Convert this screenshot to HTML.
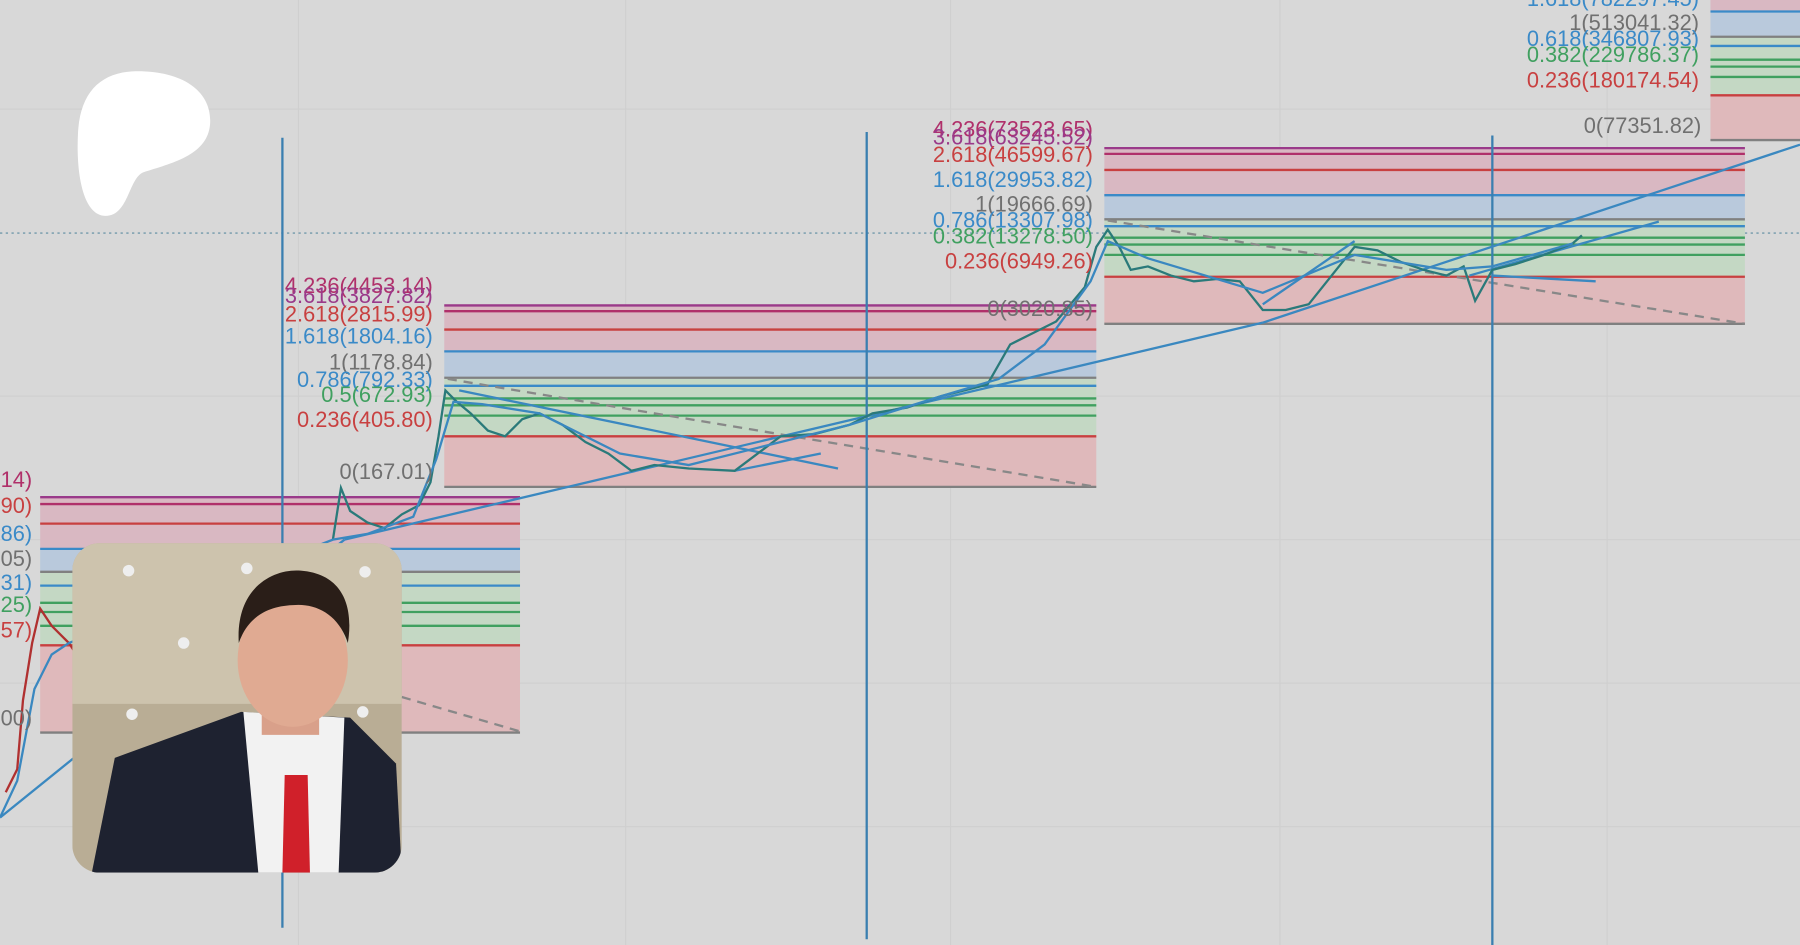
<!DOCTYPE html>
<html><head><meta charset="utf-8"><style>
html,body{margin:0;padding:0;background:#d8d8d8;overflow:hidden}
svg{display:block}
text{font-family:"Liberation Sans",sans-serif;font-size:19px;text-anchor:end}
</style></head><body>
<svg width="1800" height="945" viewBox="0 0 1568 823" preserveAspectRatio="none" xmlns="http://www.w3.org/2000/svg">
<rect width="1568" height="823" fill="#d8d8d8"/>
<g stroke="#cfcfcf" stroke-width="1">
<line x1="260" y1="0" x2="260" y2="823"/><line x1="545" y1="0" x2="545" y2="823"/><line x1="828" y1="0" x2="828" y2="823"/><line x1="1115" y1="0" x2="1115" y2="823"/><line x1="1400" y1="0" x2="1400" y2="823"/>
<line x1="0" y1="95" x2="1568" y2="95"/><line x1="0" y1="345" x2="1568" y2="345"/><line x1="0" y1="470" x2="1568" y2="470"/><line x1="0" y1="595" x2="1568" y2="595"/><line x1="0" y1="720" x2="1568" y2="720"/>
</g>
<line x1="0" y1="203" x2="1568" y2="203" stroke="#5a8aa0" stroke-width="1" stroke-dasharray="2,3"/>

<!-- Box 1 -->
<g>
<rect x="35" y="432" width="418" height="46" fill="#d9b8c2"/>
<rect x="35" y="478" width="418" height="20" fill="#b9c9dc"/>
<rect x="35" y="498" width="418" height="64" fill="#c4d8c4"/>
<rect x="35" y="562" width="418" height="76" fill="#dfb9bb"/>
<g stroke-width="2">
<line x1="35" y1="433" x2="453" y2="433" stroke="#9a3a8a"/><line x1="35" y1="439" x2="453" y2="439" stroke="#b0306a"/><line x1="35" y1="456" x2="453" y2="456" stroke="#c84040"/>
<line x1="35" y1="478" x2="453" y2="478" stroke="#3a8ac8"/><line x1="35" y1="498" x2="453" y2="498" stroke="#808080"/><line x1="35" y1="510" x2="453" y2="510" stroke="#3a8ac8"/>
<line x1="35" y1="525" x2="453" y2="525" stroke="#40a060"/><line x1="35" y1="533" x2="453" y2="533" stroke="#40a060"/><line x1="35" y1="545" x2="453" y2="545" stroke="#40a060"/>
<line x1="35" y1="562" x2="453" y2="562" stroke="#c84040"/><line x1="35" y1="638" x2="453" y2="638" stroke="#808080"/>
</g>
<line x1="350" y1="607" x2="453" y2="637" stroke="#888" stroke-width="2" stroke-dasharray="8,6"/>
</g>
<!-- Box 2 -->
<g>
<rect x="387" y="265" width="568" height="41" fill="#d9b8c2"/>
<rect x="387" y="306" width="568" height="24" fill="#b9c9dc"/>
<rect x="387" y="330" width="568" height="50" fill="#c4d8c4"/>
<rect x="387" y="380" width="568" height="44" fill="#dfb9bb"/>
<g stroke-width="2">
<line x1="387" y1="266" x2="955" y2="266" stroke="#9a3a8a"/><line x1="387" y1="271" x2="955" y2="271" stroke="#b0306a"/><line x1="387" y1="287" x2="955" y2="287" stroke="#c84040"/>
<line x1="387" y1="306" x2="955" y2="306" stroke="#3a8ac8"/><line x1="387" y1="329" x2="955" y2="329" stroke="#808080"/><line x1="387" y1="336" x2="955" y2="336" stroke="#3a8ac8"/>
<line x1="387" y1="347" x2="955" y2="347" stroke="#40a060"/><line x1="387" y1="353" x2="955" y2="353" stroke="#40a060"/><line x1="387" y1="362" x2="955" y2="362" stroke="#40a060"/>
<line x1="387" y1="380" x2="955" y2="380" stroke="#c84040"/><line x1="387" y1="424" x2="955" y2="424" stroke="#808080"/>
</g>
<line x1="390" y1="330" x2="955" y2="424" stroke="#888" stroke-width="2" stroke-dasharray="8,6"/>
</g>
<!-- Box 3 -->
<g>
<rect x="962" y="128" width="558" height="42" fill="#d9b8c2"/>
<rect x="962" y="170" width="558" height="21" fill="#b9c9dc"/>
<rect x="962" y="191" width="558" height="50" fill="#c4d8c4"/>
<rect x="962" y="241" width="558" height="41" fill="#dfb9bb"/>
<g stroke-width="2">
<line x1="962" y1="129" x2="1520" y2="129" stroke="#9a3a8a"/><line x1="962" y1="134" x2="1520" y2="134" stroke="#b0306a"/><line x1="962" y1="148" x2="1520" y2="148" stroke="#c84040"/>
<line x1="962" y1="170" x2="1520" y2="170" stroke="#3a8ac8"/><line x1="962" y1="191" x2="1520" y2="191" stroke="#808080"/><line x1="962" y1="197" x2="1520" y2="197" stroke="#3a8ac8"/>
<line x1="962" y1="207" x2="1520" y2="207" stroke="#40a060"/><line x1="962" y1="213" x2="1520" y2="213" stroke="#40a060"/><line x1="962" y1="222" x2="1520" y2="222" stroke="#40a060"/>
<line x1="962" y1="241" x2="1520" y2="241" stroke="#c84040"/><line x1="962" y1="282" x2="1520" y2="282" stroke="#808080"/>
</g>
<line x1="965" y1="192" x2="1520" y2="282" stroke="#888" stroke-width="2" stroke-dasharray="8,6"/>
</g>
<!-- Box 4 -->
<g>
<rect x="1490" y="0" width="78" height="10" fill="#d9b8c2"/>
<rect x="1490" y="10" width="78" height="22" fill="#b9c9dc"/>
<rect x="1490" y="32" width="78" height="51" fill="#c4d8c4"/>
<rect x="1490" y="83" width="78" height="39" fill="#dfb9bb"/>
<g stroke-width="2">
<line x1="1490" y1="10" x2="1568" y2="10" stroke="#3a8ac8"/><line x1="1490" y1="32" x2="1568" y2="32" stroke="#808080"/><line x1="1490" y1="40" x2="1568" y2="40" stroke="#3a8ac8"/>
<line x1="1490" y1="52" x2="1568" y2="52" stroke="#40a060"/><line x1="1490" y1="58" x2="1568" y2="58" stroke="#40a060"/><line x1="1490" y1="67" x2="1568" y2="67" stroke="#40a060"/>
<line x1="1490" y1="83" x2="1568" y2="83" stroke="#c84040"/><line x1="1490" y1="122" x2="1568" y2="122" stroke="#808080"/>
</g>
</g>

<!-- vertical lines -->
<g stroke="#3a7fb0" stroke-width="2">
<line x1="246" y1="120" x2="246" y2="808"/><line x1="755" y1="115" x2="755" y2="818"/><line x1="1300" y1="118" x2="1300" y2="823"/>
</g>

<!-- trend lines -->
<g stroke="#3a88c0" stroke-width="2" fill="none">
<line x1="0" y1="712" x2="300" y2="470"/>
<line x1="300" y1="470" x2="1100" y2="281"/>
<line x1="1100" y1="281" x2="1568" y2="126"/>
<line x1="1280" y1="240" x2="1445" y2="193"/>
<line x1="400" y1="340" x2="730" y2="408"/>
<line x1="640" y1="410" x2="715" y2="395"/>
<line x1="1100" y1="265" x2="1180" y2="210"/>
<line x1="1300" y1="240" x2="1390" y2="245"/>
</g>
<!-- price -->
<polyline fill="none" stroke="#b03030" stroke-width="2" points="5,690 15,670 20,610 28,560 35,530 45,545 60,560 70,575"/>
<polyline fill="none" stroke="#2a7a7a" stroke-width="2" points="290,470 297,425 305,445 320,455 335,460 350,448 365,440 375,420 382,380 388,340 398,350 410,360 425,375 440,380 455,365 470,360 490,370 510,385 530,395 550,410 570,405 600,408 640,410 660,395 680,380 710,378 740,370 760,360 790,355 820,345 860,335 880,300 900,290 920,280 945,250 955,215 965,200 975,215 985,235 1000,232 1020,240 1040,245 1060,243 1080,245 1100,270 1120,270 1140,265 1160,240 1180,215 1200,218 1220,228 1240,235 1260,240 1275,232 1285,262 1300,235 1320,230 1345,222 1370,212 1378,205"/>
<polyline fill="none" stroke="#3a88c0" stroke-width="2" points="0,712 15,680 30,600 45,570 60,560 290,470 320,465 360,450 380,400 395,350 420,352 470,360 540,395 600,405 660,390 740,370 820,345 870,330 910,300 950,245 965,210 1000,225 1100,255 1180,222 1260,235 1300,232 1370,212"/>

<!-- labels box1 -->
<g>
<text x="28" y="424" fill="#b0306a">4.236(4453.14)</text>
<text x="28" y="447" fill="#c84040">90)</text>
<text x="28" y="471" fill="#3a8ac8">86)</text>
<text x="28" y="493" fill="#707070">05)</text>
<text x="28" y="514" fill="#3a8ac8">31)</text>
<text x="28" y="533" fill="#40a060">25)</text>
<text x="28" y="555" fill="#c84040">57)</text>
<text x="28" y="632" fill="#707070">00)</text>
<text x="377" y="255" fill="#b0306a">4.236(4453.14)</text>
<text x="377" y="264" fill="#9a3a8a">3.618(3827.82)</text>
<text x="377" y="280" fill="#c84040">2.618(2815.99)</text>
<text x="377" y="299" fill="#3a8ac8">1.618(1804.16)</text>
<text x="377" y="322" fill="#707070">1(1178.84)</text>
<text x="377" y="337" fill="#3a8ac8">0.786(792.33)</text>
<text x="377" y="350" fill="#40a060">0.5(672.93)</text>
<text x="377" y="372" fill="#c84040">0.236(405.80)</text>
<text x="377" y="417" fill="#707070">0(167.01)</text>
<text x="952" y="119" fill="#b0306a">4.236(73523.65)</text>
<text x="952" y="126" fill="#9a3a8a">3.618(63245.52)</text>
<text x="952" y="141" fill="#c84040">2.618(46599.67)</text>
<text x="952" y="163" fill="#3a8ac8">1.618(29953.82)</text>
<text x="952" y="184" fill="#707070">1(19666.69)</text>
<text x="952" y="198" fill="#3a8ac8">0.786(13307.98)</text>
<text x="952" y="212" fill="#40a060">0.382(13278.50)</text>
<text x="952" y="234" fill="#c84040">0.236(6949.26)</text>
<text x="952" y="275" fill="#707070">0(3020.85)</text>
<text x="1480" y="5" fill="#3a8ac8">1.618(782297.45)</text>
<text x="1480" y="26" fill="#707070">1(513041.32)</text>
<text x="1480" y="40" fill="#3a8ac8">0.618(346807.93)</text>
<text x="1480" y="54" fill="#40a060">0.382(229786.37)</text>
<text x="1480" y="76" fill="#c84040">0.236(180174.54)</text>
<text x="1482" y="116" fill="#707070">0(77351.82)</text>
</g>

<!-- patreon logo -->
<path d="M120,62 C160,62 185,80 183,108 C181,135 150,142 125,150 C112,155 112,188 92,188 C72,188 66,150 68,115 C70,80 88,62 120,62 Z" fill="#fff"/>

<!-- photo -->
<defs><clipPath id="c"><rect x="63" y="473" width="287" height="287" rx="24"/></clipPath></defs>
<g clip-path="url(#c)">
<rect x="63" y="473" width="287" height="287" fill="#b9ad95"/>
<rect x="63" y="473" width="287" height="140" fill="#cdc3ad"/>
<circle cx="112" cy="497" r="5" fill="#eee"/><circle cx="215" cy="495" r="5" fill="#eee"/><circle cx="318" cy="498" r="5" fill="#eee"/>
<circle cx="160" cy="560" r="5" fill="#eee"/><circle cx="115" cy="622" r="5" fill="#eee"/><circle cx="316" cy="620" r="5" fill="#eee"/>
<path d="M80,760 L100,660 L210,620 L305,625 L345,665 L350,760 Z" fill="#1e2230"/>
<path d="M212,620 L300,625 L295,760 L225,760 Z" fill="#f2f2f2"/>
<path d="M248,675 L268,675 L270,760 L246,760 Z" fill="#d0202a"/>
<rect x="228" y="600" width="50" height="40" fill="#d9a08a"/>
<ellipse cx="255" cy="575" rx="48" ry="58" fill="#e0aa92"/>
<path d="M208,560 C205,510 240,495 262,497 C300,500 308,530 303,560 C295,535 275,525 255,527 C230,528 215,540 208,560 Z" fill="#2a1e18"/>
</g>
</svg>
</body></html>
